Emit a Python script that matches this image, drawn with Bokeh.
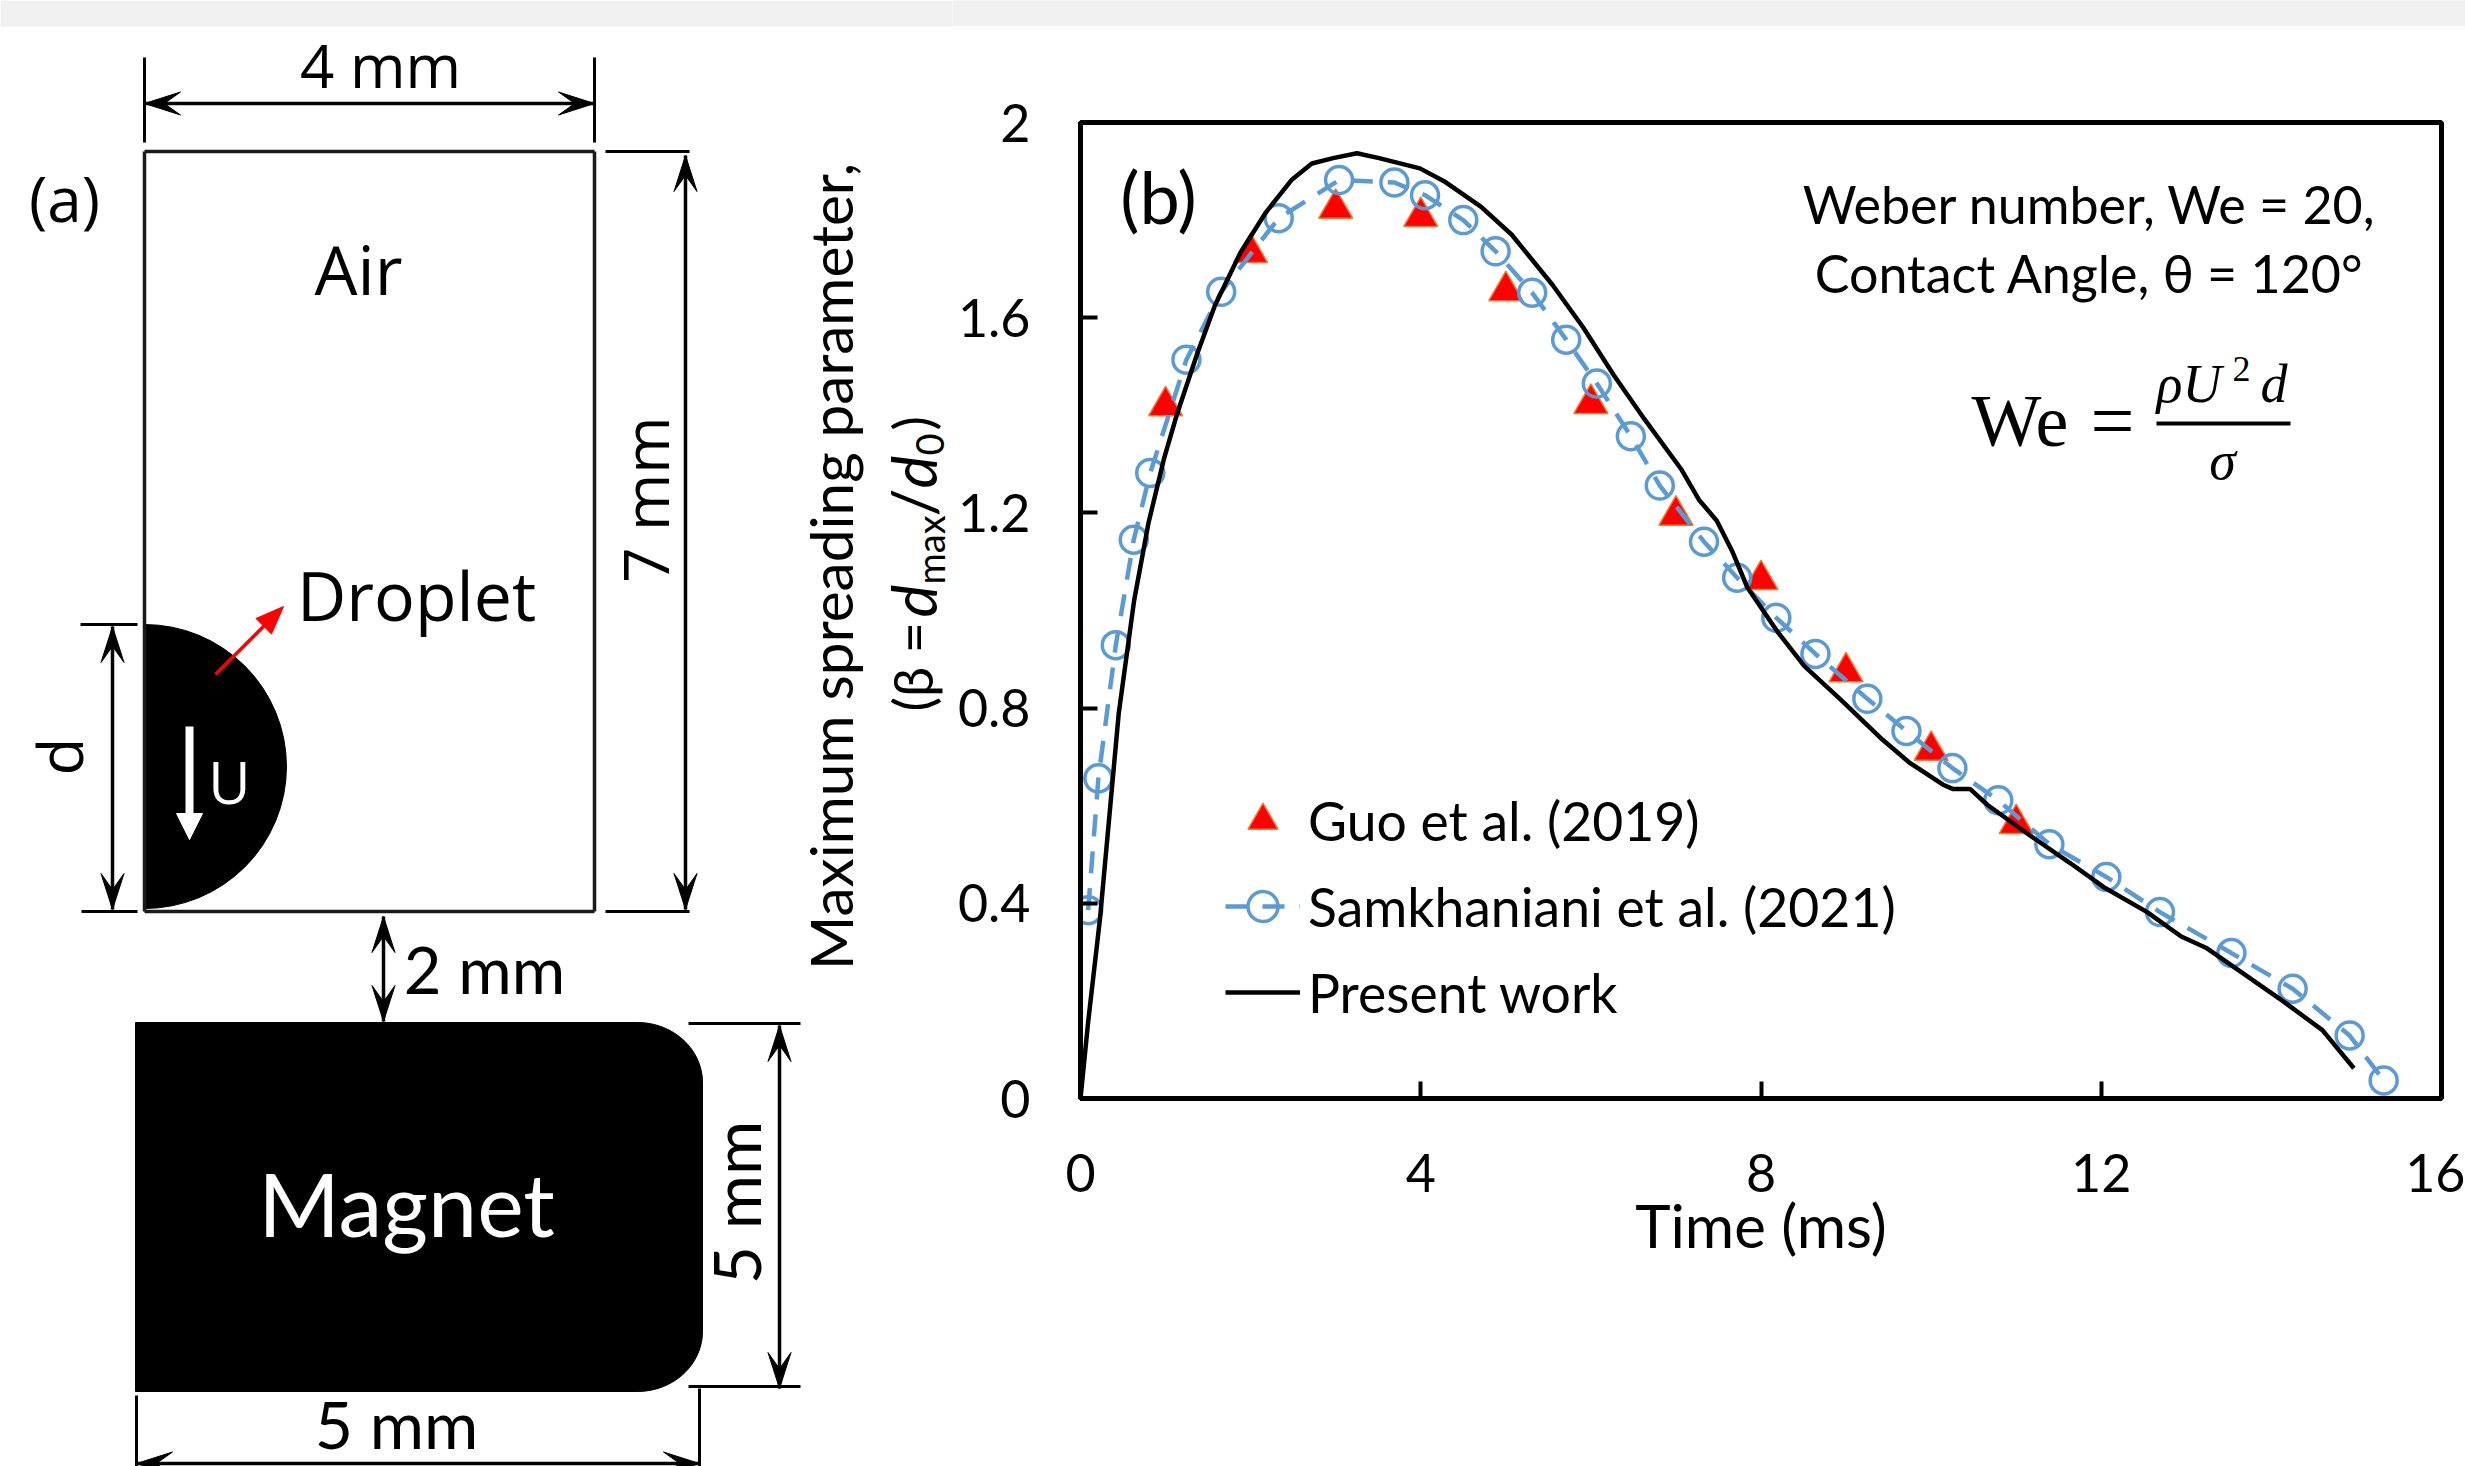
import math
import numpy as np
from bokeh.embed import file_html
from bokeh.layouts import column, row
from bokeh.models import FixedTicker, Label, Legend, LegendItem, Range1d
from bokeh.plotting import figure
from bokeh.resources import INLINE

# ---- Panel (b) data ----
guo_t = [1, 2, 3, 4, 5, 6, 7, 8, 9, 10, 11]
guo_beta = [1.419, 1.733, 1.824, 1.807, 1.655, 1.424, 1.195, 1.063, 0.874, 0.713, 0.563]

sam_t = [0.09, 0.21, 0.415, 0.626, 0.82, 1.245, 1.654, 2.33, 3.04, 3.69, 4.05, 4.5, 4.88, 5.31,
         5.71, 6.07, 6.47, 6.81, 7.33, 7.72, 8.18, 8.64, 9.25, 9.71, 10.25, 10.79, 11.39, 12.06,
         12.69, 13.53, 14.25, 14.92, 15.32]
sam_beta = [0.386, 0.656, 0.929, 1.145, 1.282, 1.514, 1.653, 1.804, 1.882, 1.877, 1.851, 1.8,
            1.736, 1.651, 1.555, 1.465, 1.357, 1.256, 1.141, 1.067, 0.985, 0.911, 0.819, 0.753,
            0.677, 0.611, 0.521, 0.454, 0.382, 0.298, 0.225, 0.129, 0.037]

work_t = [0, 0.09, 0.23, 0.45, 0.63, 0.8, 0.98, 1.13, 1.37, 1.58, 1.88, 2.18, 2.48, 2.72, 2.97,
          3.25, 3.51, 3.99, 4.29, 4.71, 5.07, 5.55, 5.91, 6.27, 6.63, 7.06, 7.27, 7.48, 7.66,
          7.84, 8.2, 8.51, 8.94, 9.43, 9.74, 10.14, 10.26, 10.46, 10.66, 11.17, 11.63, 12.03,
          12.54, 12.94, 13.23, 13.57, 14.14, 14.6, 14.97]
work_beta = [0, 0.157, 0.37, 0.79, 1.02, 1.18, 1.31, 1.40, 1.525, 1.625, 1.733, 1.816, 1.882,
             1.916, 1.927, 1.937, 1.927, 1.906, 1.878, 1.827, 1.77, 1.667, 1.58, 1.482, 1.392,
             1.29, 1.227, 1.184, 1.122, 1.047, 0.955, 0.886, 0.817, 0.735, 0.689, 0.643, 0.634,
             0.634, 0.602, 0.538, 0.483, 0.433, 0.382, 0.332, 0.309, 0.268, 0.199, 0.14, 0.062]

x_ticks = [0, 4, 8, 12, 16]
y_ticks = [0, 0.4, 0.8, 1.2, 1.6, 2]
y_tick_labels = ["0", "0.4", "0.8", "1.2", "1.6", "2"]

# ---- Panel (a) schematic, in picture pixels ----
frame_segments = [((144, 151), (594, 151)), ((594, 151), (594, 911)), ((594, 911), (144, 911)), ((144, 911), (144, 151))]
extension_segments = [((144, 57), (144, 142)), ((594, 57), (594, 142)), ((605, 151), (689, 151)),
                      ((605, 911), (689, 911)), ((80, 624), (137, 624)), ((81, 911), (137, 911)),
                      ((688, 1023), (800, 1023)), ((688, 1386), (800, 1386)), ((136, 1395), (136, 1470)),
                      ((699, 1388), (699, 1470))]
dimension_arrows = [((144, 103), (594, 103)), ((685, 155), (685, 909)), ((112, 626), (112, 909)),
                    ((383, 916), (383, 1021)), ((779, 1025), (779, 1388)), ((136, 1463), (699, 1463))]
droplet_x, droplet_y, droplet_r = 144, 766, 142
magnet_left, magnet_right, magnet_top, magnet_bottom = 135, 702, 1022, 1391
magnet_corner_x, magnet_corner_y = 65, 60

BAND = 26
FULL_H = 1466
H = FULL_H - BAND
LW = 952
RW = 2465 - LW
F_A, F_B = "Open Sans", "Lato"

band = figure(width=RW, height=BAND, output_backend="svg", toolbar_location=None,
              x_range=(0, 1), y_range=(0, 1), min_border=0, outline_line_color=None,
              background_fill_color="#f0f0f0", border_fill_color="#f0f0f0", frame_align=False)
band.axis.visible = False
band.grid.visible = False
band.quad(left=[0], right=[1], bottom=[0], top=[1], fill_color="#f0f0f0", line_color=None)

# ---- Panel (a) and the y-axis title of panel (b) ----
pa = figure(width=LW, height=FULL_H, output_backend="svg", toolbar_location=None,
            x_range=Range1d(0, LW), y_range=Range1d(FULL_H, 0), min_border=0,
            outline_line_color=None, frame_align=False)
pa.axis.visible = False
pa.grid.visible = False
pa.quad(left=[0], right=[LW], top=[0], bottom=[BAND], fill_color="#f0f0f0", line_color=None)


def seg(p, segments, color="#000000", width=3):
    p.multi_line([[a[0], b[0]] for a, b in segments], [[a[1], b[1]] for a, b in segments],
                 line_color=color, line_width=width)


def head(tip, tail, length=36, half=11.5, notch=0.55):
    dx, dy = tail[0] - tip[0], tail[1] - tip[1]
    n = math.hypot(dx, dy)
    ux, uy = dx / n, dy / n
    vx, vy = -uy, ux
    return ([tip[0], tip[0] + ux * length + vx * half, tip[0] + ux * length * notch,
             tip[0] + ux * length - vx * half],
            [tip[1], tip[1] + uy * length + vy * half, tip[1] + uy * length * notch,
             tip[1] + uy * length - vy * half])


pa.wedge(x=[droplet_x], y=[droplet_y], radius=droplet_r, start_angle=-math.pi / 2, end_angle=math.pi / 2,
         fill_color="#000000", line_color="#000000")
seg(pa, frame_segments, "#1a1a1a", 3.5)
seg(pa, extension_segments, "#000000", 3)
seg(pa, dimension_arrows, "#000000", 3.5)
hx, hy = [], []
for a, b in dimension_arrows:
    for tip, tail in ((a, b), (b, a)):
        px, py = head(tip, tail)
        hx.append(px)
        hy.append(py)
pa.patches(hx, hy, fill_color="#000000", line_color="#000000", line_width=1)

# velocity arrow (white) and droplet pointer (red)
u_arrow = ((189, 726), (189, 815), (189, 839))
pa.line([u_arrow[0][0], u_arrow[1][0]], [u_arrow[0][1], u_arrow[1][1]], line_color="#ffffff", line_width=8)
px, py = head(u_arrow[2], u_arrow[0], length=26, half=13, notch=1.0)
pa.patch(px, py, fill_color="#ffffff", line_color="#ffffff")
red_arrow = ((215, 674), (283, 606))
pa.line([red_arrow[0][0], red_arrow[1][0] - 8], [red_arrow[0][1], red_arrow[1][1] + 8], line_color="#ff0000", line_width=3.5)
px, py = head(red_arrow[1], red_arrow[0], length=28, half=11, notch=1.0)
pa.patch(px, py, fill_color="#ff0000", line_color="#ff0000")

# magnet outline with rounded right corners
ang = np.linspace(0, math.pi / 2, 24)
cx_top = magnet_right - magnet_corner_x + magnet_corner_x * np.sin(ang)
cy_top = magnet_top + magnet_corner_y - magnet_corner_y * np.cos(ang)
cx_bot = cx_top[::-1]
cy_bot = magnet_bottom - (cy_top[::-1] - magnet_top)
pa.patch([magnet_left] + list(cx_top) + list(cx_bot) + [magnet_left],
         [magnet_top] + list(cy_top) + list(cy_bot) + [magnet_bottom],
         fill_color="#000000", line_color="#000000")


def lab(p, x, y, text, size, font, color="#000000", align="center", base="alphabetic", angle=0, style="normal"):
    p.add_layout(Label(x=x, y=y, text=text, text_font=font, text_font_size=f"{size}px",
                       text_color=color, text_align=align, text_baseline=base, angle=angle,
                       text_font_style=style))


lab(pa, 64, 197, "(a)", 62, F_A)
lab(pa, 358, 268, "Air", 68, F_A)
lab(pa, 416, 594, "Droplet", 68, F_A)
lab(pa, 380, 64, "4 mm", 60, F_A)
lab(pa, 644, 499, "7 mm", 62, F_A, angle=math.pi / 2)
lab(pa, 58, 756, "d", 62, F_A, angle=math.pi / 2)
lab(pa, 229, 781, "U", 58, F_A, color="#ffffff")
lab(pa, 484, 968, "2 mm", 65, F_B)
lab(pa, 406, 1202, "Magnet", 88, F_B, color="#ffffff")
lab(pa, 735, 1202, "5 mm", 66, F_B, angle=math.pi / 2)
lab(pa, 396, 1423, "5 mm", 66, F_B)

# y-axis title: two rotated lines
lab(pa, 829, 566, "Maximum spreading parameter,", 58.5, F_B, angle=math.pi / 2)
Y_LINE2 = 912
pieces = [(711, "(β =", 54, "normal", 0), (617, "d", 62, "italic", 0), (584, "max", 38, "normal", 17),
          (516, "/", 62, "normal", 0), (488, "d", 62, "italic", 0), (455, "0", 38, "normal", 17),
          (430, ")", 54, "normal", 0)]
for y0, txt, size, style, shift in pieces:
    lab(pa, Y_LINE2 + shift, y0, txt, size, F_B, align="left", angle=math.pi / 2, style=style)

# ---- Panel (b) ----
pb = figure(width=RW, height=H, output_backend="svg", toolbar_location=None,
            x_range=Range1d(0, 16), y_range=Range1d(0, 2),
            min_border_left=1080 - LW, min_border_right=24, min_border_top=122 - BAND, min_border_bottom=1466 - 1098,
            outline_line_color="#000000", outline_line_width=5, frame_align=False)
pb.grid.visible = False
for ax in (pb.xaxis[0], pb.yaxis[0]):
    ax.axis_line_width = 5
    ax.axis_line_color = "#000000"
    ax.major_tick_line_width = 4
    ax.major_tick_line_color = "#000000"
    ax.major_tick_in = 17
    ax.major_tick_out = 0
    ax.minor_tick_line_color = None
    ax.major_label_text_font = F_B
    ax.major_label_text_font_size = "52px"
    ax.major_label_text_color = "#000000"
pb.xaxis[0].ticker = FixedTicker(ticks=x_ticks)
pb.xaxis[0].major_label_overrides = {t: str(t) for t in x_ticks}
pb.xaxis[0].major_label_standoff = 55
pb.yaxis[0].ticker = FixedTicker(ticks=y_ticks)
pb.yaxis[0].major_label_overrides = {t: s for t, s in zip(y_ticks, y_tick_labels)}
pb.yaxis[0].major_label_standoff = 50
pb.xaxis[0].axis_label = "Time (ms)"
pb.xaxis[0].axis_label_text_font = F_B
pb.xaxis[0].axis_label_text_font_size = "60px"
pb.xaxis[0].axis_label_text_font_style = "normal"
pb.xaxis[0].axis_label_text_color = "#000000"
pb.xaxis[0].axis_label_standoff = -6

r_guo = pb.scatter(guo_t, guo_beta, marker="triangle", size=34, fill_color="#ff0000", line_color="#ED7D31", line_width=1.5)
r_sam_line = pb.line(sam_t, sam_beta, line_color="#5B9BD5", line_width=4.5, line_dash="22 15")
r_sam_pts = pb.scatter(sam_t, sam_beta, marker="circle", size=27, fill_color=None, line_color="#5B9BD5", line_width=3.5)
r_work = pb.line(work_t, work_beta, line_color="#000000", line_width=4.5)

legend = Legend(items=[LegendItem(label="Guo et al. (2019)", renderers=[r_guo]),
                       LegendItem(label="Samkhaniani et al. (2021)", renderers=[r_sam_line, r_sam_pts]),
                       LegendItem(label="Present work", renderers=[r_work])],
                location=(145, 66), orientation="vertical", background_fill_alpha=0, border_line_color=None,
                glyph_width=75, glyph_height=80, label_height=50, label_standoff=8, spacing=6,
                margin=0, padding=0, label_text_font=F_B, label_text_font_size="53.5px",
                label_text_color="#000000")
pb.add_layout(legend)


def tx(x):
    return (x - 1080) / (2441 - 1080) * 16


def ty(y):
    return (1098 - y) / (1098 - 122) * 2


lab(pb, tx(1158), ty(195), "(b)", 72, F_B)
lab(pb, tx(2089), ty(203), "Weber number, We = 20,", 52, F_B)
lab(pb, tx(2089), ty(272), "Contact Angle, θ = 120°", 52, F_B)

SERIF = "Liberation Serif"
lab(pb, tx(1971), ty(420), "We", 74, SERIF, align="left")
lab(pb, tx(2090), ty(420), "=", 78, SERIF, align="left")
lab(pb, tx(2156), ty(383), "ρU", 54, SERIF, align="left", style="italic")
lab(pb, tx(2232), ty(368), "2", 36, SERIF, align="left")
lab(pb, tx(2260), ty(383), "d", 54, SERIF, align="left", style="italic")
lab(pb, tx(2222), ty(460), "σ", 54, SERIF, style="italic")
fraction_x, fraction_y = [tx(2156), tx(2290)], [ty(423), ty(423)]
pb.line(fraction_x, fraction_y, line_color="#000000", line_width=4)

layout = row(pa, column(band, pb, spacing=0), spacing=0)
open("out.html", "w").write(file_html(layout, INLINE))
